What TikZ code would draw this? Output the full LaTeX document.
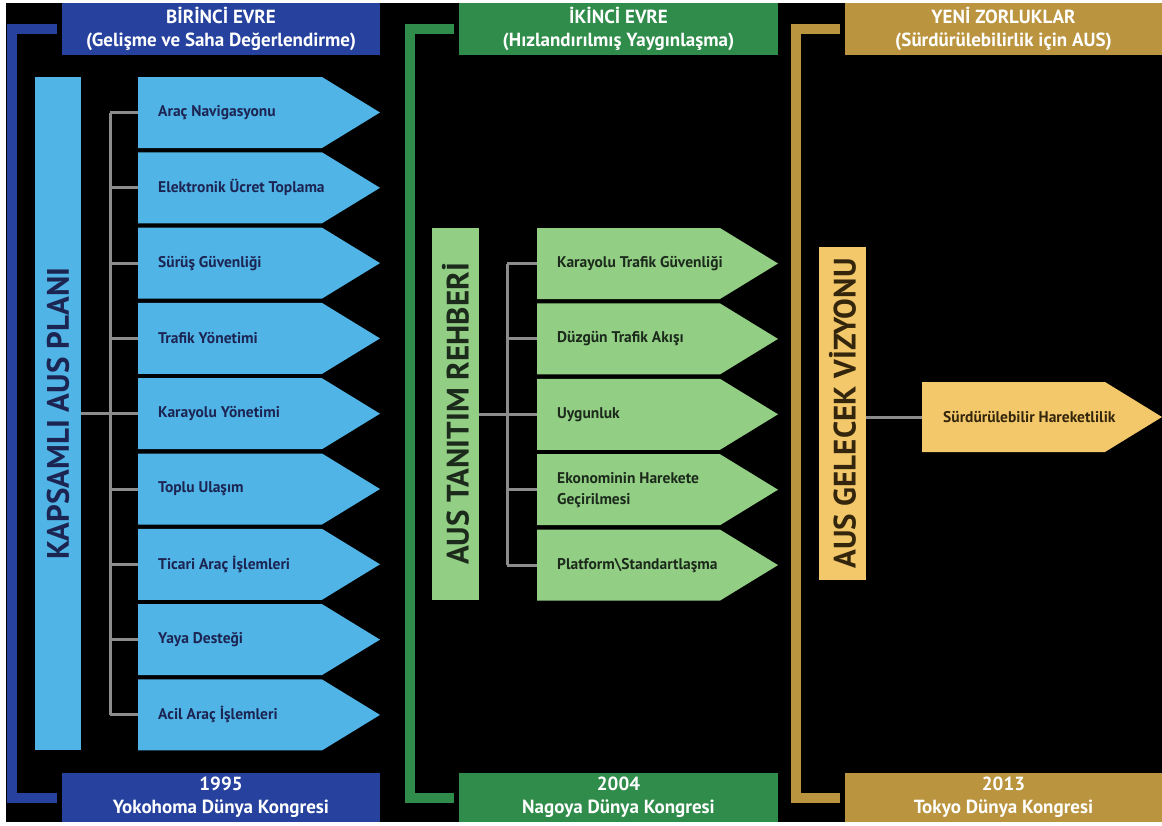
\documentclass[tikz,border=0pt]{standalone}
\usepackage{fontspec}
\setmainfont{PT Sans}
\definecolor{blueHead}{RGB}{38,66,158}
\definecolor{blueArrow}{RGB}{80,180,230}
\definecolor{blueText}{RGB}{28,36,82}
\definecolor{greenHead}{RGB}{48,140,74}
\definecolor{greenArrow}{RGB}{146,206,132}
\definecolor{greenText}{RGB}{28,42,28}
\definecolor{goldHead}{RGB}{186,148,62}
\definecolor{goldArrow}{RGB}{243,200,106}
\definecolor{goldText}{RGB}{52,38,12}
\definecolor{treeGray}{RGB}{140,140,140}
\tikzset{
  hdr/.style={minimum width=318pt, minimum height=52pt, inner sep=0pt, text=white,
    font=\bfseries\fontsize{19}{23}\selectfont, align=center},
  ftr/.style={hdr, minimum height=49pt},
  brk/.style={line width=10pt},
  tree/.style={draw=treeGray, line width=3pt},
  vbar/.style={rotate=90, inner sep=0pt, font=\bfseries\fontsize{31}{32}\selectfont},
  atext/.style={anchor=west, align=left, inner sep=0pt,
    font=\bfseries\fontsize{15.5}{21}\selectfont},
}
\begin{document}
\begin{tikzpicture}[x=1pt,y=-1pt]
\useasboundingbox (0,0) rectangle (1162,825);
\fill[white] (0,0) rectangle (1162,825);
\fill[black] (6,3) rectangle (1162,822);

% ---------- Blue column ----------
\node[hdr, fill=blueHead] (h1) at (221,29) {BİRİNCİ EVRE\\(Gelişme ve Saha Değerlendirme)};
\node[ftr, fill=blueHead] (f1) at (221,797.5) {1995\\Yokohoma Dünya Kongresi};
\coordinate (v1) at (11.5,0);
\draw[brk, blueHead] ([xshift=-5pt]h1.west) -- (v1 |- h1.west) -- (v1 |- f1.west) -- ([xshift=-5pt]f1.west);
\node[vbar, fill=blueArrow, text=blueText, minimum width=673pt, minimum height=46pt] (m1) at (58,413.5) {KAPSAMLI AUS PLANI};
\coordinate (j1) at (110,413.5);
\foreach \t [count=\i from 0] in {Araç Navigasyonu, Elektronik Ücret Toplama, Sürüş Güvenliği, Trafik Yönetimi, Karayolu Yönetimi, Toplu Ulaşım, Ticari Araç İşlemleri, Yaya Desteği, Acil Araç İşlemleri}{
  \pgfmathsetmacro\yc{112.5+75.3*\i}
  \fill[blueArrow] (138,{\yc-35.5}) -- (322,{\yc-35.5}) -- (380,\yc) -- (322,{\yc+35.5}) -- (138,{\yc+35.5}) -- cycle;
  \coordinate (e\i) at (138,\yc);
  \node[atext, text=blueText] (b\i) at (158,\yc) {\t};
  \draw[tree] (j1 |- e\i) -- (e\i);
}
\draw[tree] (j1 |- e0) -- (j1 |- e8);
\draw[tree] (m1.south) -- (j1);

% ---------- Green column ----------
\node[hdr, fill=greenHead, minimum width=319pt] (h2) at (618.5,29) {İKİNCİ EVRE\\(Hızlandırılmış Yaygınlaşma)};
\node[ftr, fill=greenHead, minimum width=319pt] (f2) at (618.5,797.5) {2004\\Nagoya Dünya Kongresi};
\coordinate (v2) at (410,0);
\draw[brk, greenHead] ([xshift=-5pt]h2.west) -- (v2 |- h2.west) -- (v2 |- f2.west) -- ([xshift=-5pt]f2.west);
\node[vbar, fill=greenArrow, text=greenText, minimum width=372pt, minimum height=47pt] (m2) at (455.5,414) {AUS TANITIM REHBERİ};
\coordinate (j2) at (507,414);
\foreach \t [count=\i from 0] in {Karayolu Trafik Güvenliği, Düzgün Trafik Akışı, Uygunluk, {Ekonominin Harekete\\Geçirilmesi}, Platform\textbackslash Standartlaşma}{
  \pgfmathsetmacro\yc{263.5+75.4*\i}
  \fill[greenArrow] (537,{\yc-35.5}) -- (720,{\yc-35.5}) -- (778,\yc) -- (720,{\yc+35.5}) -- (537,{\yc+35.5}) -- cycle;
  \coordinate (g\i) at (537,\yc);
  \node[atext, text=greenText] (c\i) at (557,\yc) {\t};
  \draw[tree] (j2 |- g\i) -- (g\i);
}
\draw[tree] (j2 |- g0) -- (j2 |- g4);
\draw[tree] (m2.south) -- (j2);

% ---------- Gold column ----------
\node[hdr, fill=goldHead, minimum width=317pt] (h3) at (1003.5,29) {YENİ ZORLUKLAR\\(Sürdürülebilirlik için AUS)};
\node[ftr, fill=goldHead, minimum width=317pt] (f3) at (1003.5,797.5) {2013\\Tokyo Dünya Kongresi};
\coordinate (v3) at (795.5,0);
\draw[brk, goldHead] ([xshift=-5pt]h3.west) -- (v3 |- h3.west) -- (v3 |- f3.west) -- ([xshift=-5pt]f3.west);
\node[vbar, fill=goldArrow, text=goldText, minimum width=333pt, minimum height=47pt] (m3) at (842.5,413.5) {AUS GELECEK VİZYONU};
\fill[goldArrow] (922,382) -- (1105,382) -- (1162,417) -- (1105,452) -- (922,452) -- cycle;
\coordinate (k0) at (922,417);
\node[atext, text=goldText] (d0) at (943,417) {Sürdürülebilir Hareketlilik};
\draw[tree] (m3.south |- k0) -- (k0);
\end{tikzpicture}
\end{document}
